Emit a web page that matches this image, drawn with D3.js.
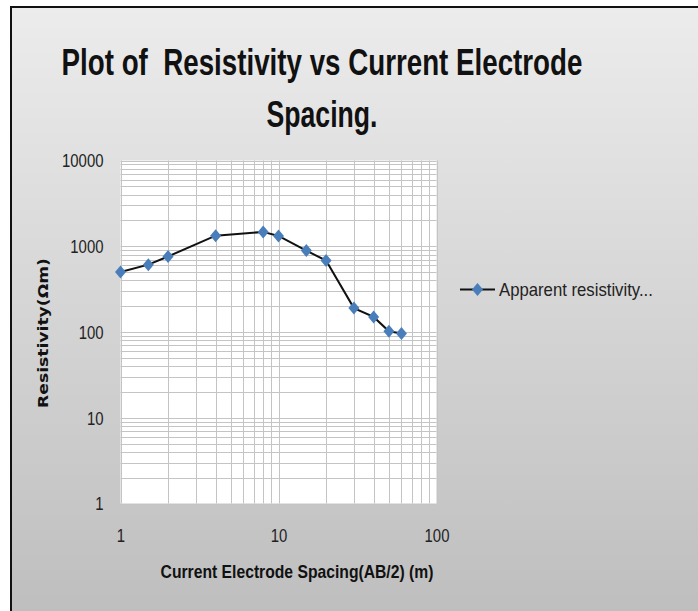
<!DOCTYPE html>
<html>
<head>
<meta charset="utf-8">
<script src="https://cdn.jsdelivr.net/npm/d3@7"></script>
<style>
  html, body { margin: 0; padding: 0; background: #fff; }
  svg { display: block; }
  text { white-space: pre; }
</style>
</head>
<body>
<svg id="chart" width="698" height="611"></svg>
<script>
// Apparent resistivity readings (VES sounding)
const spacing = [1, 1.5, 2, 4, 8, 10, 15, 20, 30, 40, 50, 60];
const resistivity = [500, 610, 760, 1330, 1470, 1320, 890, 680, 190, 150, 102, 96];
const xTicks = [1, 10, 100];
const yTicks = [1, 10, 100, 1000, 10000];
const seriesName = "Apparent resistivity...";

const W = 698, H = 611;
const NARROW = "'Liberation Sans Narrow', 'Arial Narrow', 'Liberation Sans', Arial, sans-serif";
const svg = d3.select("#chart");

// squeeze a text horizontally (about its anchor) so it spans `width` px
function fitWidth(sel, width) {
  sel.each(function () {
    const t = d3.select(this);
    const w = this.getComputedTextLength();
    const ax = +t.attr("x") || 0, ay = +t.attr("y") || 0;
    const k = width / w;
    const base = t.attr("data-rot") ? ` rotate(${t.attr("data-rot")})` : "";
    t.attr("x", 0).attr("y", 0)
      .attr("transform", `translate(${ax},${ay})${base} scale(${k},1)`);
  });
}

// Chart background (grey gradient, framed)
const defs = svg.append("defs");
const grad = defs.append("linearGradient")
  .attr("id", "bg").attr("x1", 0).attr("y1", 0).attr("x2", 0).attr("y2", 1);
grad.append("stop").attr("offset", "0%").attr("stop-color", "#ececec");
grad.append("stop").attr("offset", "100%").attr("stop-color", "#bdbdbd");

svg.append("rect").attr("width", W).attr("height", H).attr("fill", "#fff");
svg.append("rect")
  .attr("x", 11).attr("y", 7)
  .attr("width", W + 10).attr("height", H + 10)
  .attr("fill", "url(#bg)")
  .attr("stroke", "#111").attr("stroke-width", 2);

// Plot area
const plot = { left: 120.5, right: 436.5, top: 160.5, bottom: 503.5 };
const x = d3.scaleLog().domain([1, 100]).range([plot.left, plot.right]);
const y = d3.scaleLog().domain([1, 10000]).range([plot.bottom, plot.top]);

svg.append("rect")
  .attr("x", plot.left).attr("y", plot.top)
  .attr("width", plot.right - plot.left).attr("height", plot.bottom - plot.top)
  .attr("fill", "#fff");

// Gridlines at every 1..9 step of each decade
const minor = (lo, hi) => {
  const out = [];
  for (let d = lo; d < hi; d *= 10) for (let k = 1; k <= 9; k++) out.push(d * k);
  out.push(hi);
  return out;
};
const grid = svg.append("g").attr("stroke", "#c4c4c4").attr("stroke-width", 1);
grid.selectAll("line.gx").data(minor(1, 100)).join("line")
  .attr("class", "gx")
  .attr("x1", d => Math.round(x(d)) + 0.5).attr("x2", d => Math.round(x(d)) + 0.5)
  .attr("y1", plot.top).attr("y2", plot.bottom);
grid.selectAll("line.gy").data(minor(1, 10000)).join("line")
  .attr("class", "gy")
  .attr("y1", d => Math.round(y(d)) + 0.5).attr("y2", d => Math.round(y(d)) + 0.5)
  .attr("x1", plot.left).attr("x2", plot.right);

// Axes (labels only, Excel style)
const xAxis = svg.append("g")
  .attr("transform", `translate(0,${plot.bottom + 38})`)
  .call(d3.axisBottom(x).tickValues(xTicks).tickFormat(d3.format("d")).tickSize(0));
xAxis.select(".domain").remove();
xAxis.selectAll("text")
  .attr("font-family", NARROW).attr("font-size", 18).attr("fill", "#222")
  .attr("y", 0).attr("dy", 0);
xAxis.selectAll("text").each(function (d) {
  fitWidth(d3.select(this), String(d).length * 8.3);
});

const yAxis = svg.append("g")
  .attr("transform", `translate(${plot.left - 17},0)`)
  .call(d3.axisLeft(y).tickValues(yTicks).tickFormat(d3.format("d")).tickSize(0));
yAxis.select(".domain").remove();
yAxis.selectAll("text")
  .attr("font-family", NARROW).attr("font-size", 18).attr("fill", "#222")
  .attr("x", 0).attr("dy", "0.35em");
yAxis.selectAll("text").each(function (d) {
  fitWidth(d3.select(this), String(d).length * 8.3);
});

// Series line + diamond markers
const pts = spacing.map((s, i) => ({ s, r: resistivity[i] }));
svg.append("path")
  .datum(pts)
  .attr("fill", "none").attr("stroke", "#111").attr("stroke-width", 2)
  .attr("d", d3.line().x(d => x(d.s)).y(d => y(d.r)));

// Excel-like diamond: 11 wide, 13 tall
const excelDiamond = {
  draw(ctx) {
    ctx.moveTo(0, -6.5); ctx.lineTo(5.5, 0); ctx.lineTo(0, 6.5); ctx.lineTo(-5.5, 0);
    ctx.closePath();
  }
};
const diamond = d3.symbol().type(excelDiamond);
svg.selectAll("path.pt").data(pts).join("path")
  .attr("class", "pt")
  .attr("transform", d => `translate(${x(d.s)},${y(d.r)})`)
  .attr("d", diamond)
  .attr("fill", "#4a7ebb");

// Title
svg.append("text")
  .attr("x", 322).attr("y", 75).attr("text-anchor", "middle")
  .attr("font-family", NARROW).attr("font-weight", 700).attr("font-size", 37)
  .attr("fill", "#111")
  .text("Plot of  Resistivity vs Current Electrode")
  .call(fitWidth, 521);
svg.append("text")
  .attr("x", 322).attr("y", 127).attr("text-anchor", "middle")
  .attr("font-family", NARROW).attr("font-weight", 700).attr("font-size", 37)
  .attr("fill", "#111")
  .text("Spacing.")
  .call(fitWidth, 111);

// Axis titles
svg.append("text")
  .attr("x", 297).attr("y", 578).attr("text-anchor", "middle")
  .attr("font-family", NARROW).attr("font-weight", 700).attr("font-size", 18)
  .attr("fill", "#111")
  .text("Current Electrode Spacing(AB/2) (m)")
  .call(fitWidth, 273);
svg.append("text")
  .attr("x", 48).attr("y", 333).attr("data-rot", -90)
  .attr("text-anchor", "middle")
  .attr("font-family", "'DejaVu Sans', Verdana, sans-serif").attr("font-weight", 700)
  .attr("font-size", 14).attr("fill", "#111")
  .text("Resistivity(Ωm)")
  .call(fitWidth, 150);

// Legend
const leg = svg.append("g").attr("transform", "translate(460,289.5)");
leg.append("line").attr("x1", 0).attr("x2", 35).attr("stroke", "#111").attr("stroke-width", 2);
leg.append("path").attr("transform", "translate(17.5,0)").attr("d", diamond).attr("fill", "#4a7ebb");
leg.append("text")
  .attr("x", 39).attr("y", 6.5)
  .attr("font-family", NARROW).attr("font-size", 18).attr("fill", "#222")
  .text(seriesName)
  .call(fitWidth, 154);
</script>
</body>
</html>
